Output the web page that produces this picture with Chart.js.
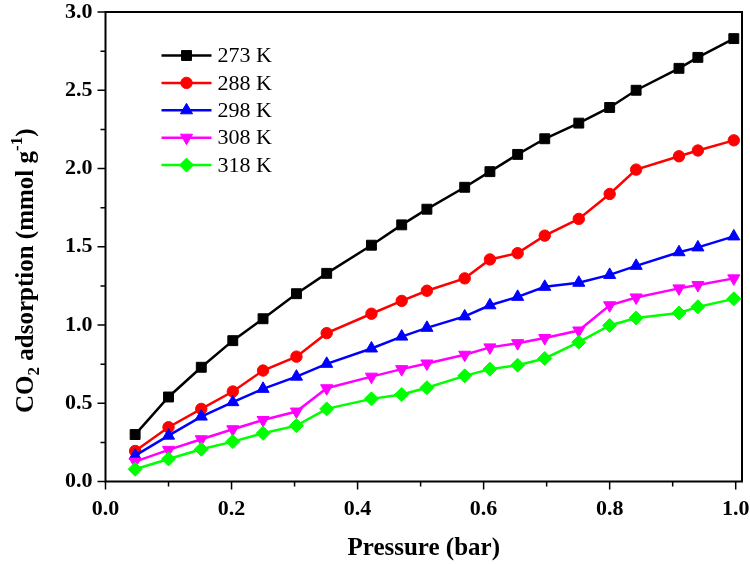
<!DOCTYPE html>
<html>
<head>
<meta charset="utf-8">
<title>CO2 adsorption isotherms</title>
<script src="https://cdn.jsdelivr.net/npm/chart.js@4.4.0/dist/chart.umd.min.js"></script>
<style>
  html, body { margin: 0; padding: 0; background: #fff; }
  #chart { display: block; }
</style>
</head>
<body>
<canvas id="chart" width="750" height="564"></canvas>
<script>
// pressure points (bar), same for every isotherm
const pressure = [0.047, 0.10, 0.152, 0.202, 0.25, 0.303, 0.351, 0.422, 0.47, 0.51,
                  0.57, 0.61, 0.654, 0.697, 0.751, 0.80, 0.842, 0.91, 0.94, 0.997];

const seriesNames = ['273 K', '288 K', '298 K', '308 K', '318 K'];

// CO2 uptake (mmol/g)
const uptake273 = [0.30, 0.54, 0.73, 0.90, 1.04, 1.20, 1.33, 1.51, 1.64, 1.74,
                   1.88, 1.98, 2.09, 2.19, 2.29, 2.39, 2.50, 2.64, 2.71, 2.83];
const uptake288 = [0.195, 0.347, 0.464, 0.575, 0.709, 0.798, 0.948, 1.072, 1.154, 1.219,
                   1.298, 1.419, 1.459, 1.571, 1.678, 1.837, 1.993, 2.078, 2.115, 2.18];
const uptake298 = [0.165, 0.293, 0.415, 0.507, 0.592, 0.67, 0.752, 0.85, 0.926, 0.982,
                   1.055, 1.126, 1.18, 1.244, 1.27, 1.32, 1.378, 1.465, 1.496, 1.566];
const uptake308 = [0.127, 0.202, 0.27, 0.334, 0.393, 0.447, 0.596, 0.67, 0.718, 0.754,
                   0.81, 0.857, 0.884, 0.917, 0.965, 1.126, 1.176, 1.234, 1.255, 1.298];
const uptake318 = [0.078, 0.144, 0.206, 0.255, 0.308, 0.357, 0.464, 0.528, 0.556, 0.599,
                   0.675, 0.718, 0.743, 0.786, 0.89, 0.997, 1.045, 1.077, 1.116, 1.167];

// axis ticks (labels only on every second one)
const xTicks = [0, 0.1, 0.2, 0.3, 0.4, 0.5, 0.6, 0.7, 0.8, 0.9, 1.0];
const yTicks = [0, 0.25, 0.5, 0.75, 1.0, 1.25, 1.5, 1.75, 2.0, 2.25, 2.5, 2.75, 3.0];

const SERIF = "'Liberation Serif', 'Times New Roman', serif";

const styles = [
    { color: '#000000', point: 'rect', radius: 7, rotation: 0 },
    { color: '#ff0000', point: 'circle', radius: 5.7, rotation: 0 },
    { color: '#0000ff', point: 'triangle', radius: 7, rotation: 0 },
    { color: '#ff00ff', point: 'triangle', radius: 7, rotation: 180 },
    { color: '#00ff00', point: 'rectRot', radius: 7, rotation: 0 }
];

const allSeries = [uptake273, uptake288, uptake298, uptake308, uptake318];

const datasets = allSeries.map((vals, i) => ({
    label: seriesNames[i],
    data: vals.map((v, j) => ({ x: pressure[j], y: v })),
    borderColor: styles[i].color,
    backgroundColor: styles[i].color,
    borderWidth: 2.5,
    pointStyle: styles[i].point,
    pointRadius: styles[i].radius,
    pointRotation: styles[i].rotation,
    pointBorderWidth: 1,
    pointBackgroundColor: styles[i].color,
    pointBorderColor: styles[i].color,
    order: allSeries.length - i,
    tension: 0
}));

function drawMarker(ctx, st, x, y) {
    ctx.fillStyle = st.color;
    ctx.strokeStyle = st.color;
    ctx.lineWidth = 1;
    if (Chart.helpers && Chart.helpers.drawPoint) {
        Chart.helpers.drawPoint(ctx, { pointStyle: st.point, radius: st.radius, rotation: st.rotation, borderWidth: 1 }, x, y);
    } else {
        ctx.beginPath();
        ctx.arc(x, y, st.radius, 0, Math.PI * 2);
        ctx.fill();
    }
}

// frame, tick marks, legend and y title
const decorPlugin = {
    id: 'decor',
    afterDraw(chart) {
        const ctx = chart.ctx;
        const a = chart.chartArea;
        ctx.save();

        // box
        ctx.strokeStyle = '#000';
        ctx.lineWidth = 2;
        ctx.strokeRect(a.left, a.top, a.right - a.left, a.bottom - a.top);

        // ticks, outward, long on labelled ones
        ctx.lineWidth = 1.5;
        ctx.beginPath();
        chart.scales.x.ticks.forEach(t => {
            const px = chart.scales.x.getPixelForValue(t.value);
            const len = t.label !== '' ? 8 : 5;
            ctx.moveTo(px, a.bottom);
            ctx.lineTo(px, a.bottom + len);
        });
        chart.scales.y.ticks.forEach(t => {
            const py = chart.scales.y.getPixelForValue(t.value);
            const len = t.label !== '' ? 8 : 5;
            ctx.moveTo(a.left, py);
            ctx.lineTo(a.left - len, py);
        });
        ctx.stroke();

        // legend
        const lx = a.left + 56, ly = a.top + 43.5, step = 27.4;
        ctx.font = '22px ' + SERIF;
        ctx.textBaseline = 'middle';
        ctx.textAlign = 'left';
        chart.data.datasets.forEach((ds, i) => {
            const y = ly + i * step;
            ctx.strokeStyle = styles[i].color;
            ctx.lineWidth = 2.5;
            ctx.beginPath();
            ctx.moveTo(lx, y);
            ctx.lineTo(lx + 50, y);
            ctx.stroke();
            drawMarker(ctx, styles[i], lx + 25, y);
            ctx.fillStyle = '#000';
            ctx.fillText(ds.label, lx + 56, y + 1);
        });

        // y axis title with sub/superscript
        const big = 'bold 25px ' + SERIF, small = 'bold 17px ' + SERIF;
        const parts = [
            { t: 'CO', f: big, dy: 0 },
            { t: '2', f: small, dy: 6 },
            { t: ' adsorption (mmol g', f: big, dy: 0 },
            { t: '-1', f: small, dy: -11 },
            { t: ')', f: big, dy: 0 }
        ];
        let total = 0;
        parts.forEach(p => { ctx.font = p.f; p.w = ctx.measureText(p.t).width; total += p.w; });
        ctx.translate(33, (a.top + a.bottom) / 2 + 24);
        ctx.rotate(-Math.PI / 2);
        ctx.fillStyle = '#000';
        ctx.textBaseline = 'alphabetic';
        let x = -total / 2;
        parts.forEach(p => { ctx.font = p.f; ctx.fillText(p.t, x, p.dy); x += p.w; });

        ctx.restore();
    }
};

new Chart(document.getElementById('chart').getContext('2d'), {
    type: 'line',
    data: { datasets: datasets },
    options: {
        responsive: false,
        animation: false,
        layout: { padding: { top: 12, right: 5, left: 0, bottom: 0 } },
        plugins: {
            legend: { display: false },
            tooltip: { enabled: false }
        },
        scales: {
            x: {
                type: 'linear',
                min: 0,
                max: 1.01,
                afterBuildTicks: s => { s.ticks = xTicks.map(v => ({ value: v })); },
                afterFit: s => { s.height = 82.5; s.paddingLeft = 0; s.paddingRight = 0; },
                grid: { display: true, drawOnChartArea: false, drawTicks: true, tickLength: 8, tickColor: 'rgba(0,0,0,0)' },
                border: { display: false },
                ticks: {
                    padding: 7,
                    maxRotation: 0,
                    autoSkip: false,
                    color: '#000',
                    font: { family: SERIF, size: 22, weight: 'bold' },
                    callback: v => (Math.round(v * 10) % 2 === 0 ? v.toFixed(1) : '')
                },
                title: {
                    display: true,
                    text: 'Pressure (bar)',
                    color: '#000',
                    padding: { top: 0, bottom: 0 },
                    font: { family: SERIF, size: 25, weight: 'bold' }
                }
            },
            y: {
                min: 0,
                max: 3.0,
                afterBuildTicks: s => { s.ticks = yTicks.map(v => ({ value: v })); },
                afterFit: s => { s.width = 105.5; s.paddingTop = 0; s.paddingBottom = 0; },
                grid: { display: true, drawOnChartArea: false, drawTicks: true, tickLength: 8, tickColor: 'rgba(0,0,0,0)' },
                border: { display: false },
                ticks: {
                    padding: 5,
                    autoSkip: false,
                    color: '#000',
                    font: { family: SERIF, size: 22, weight: 'bold' },
                    callback: v => (Math.round(v * 4) % 2 === 0 ? v.toFixed(1) : '')
                },
                title: { display: false }
            }
        }
    },
    plugins: [decorPlugin]
});
</script>
</body>
</html>
